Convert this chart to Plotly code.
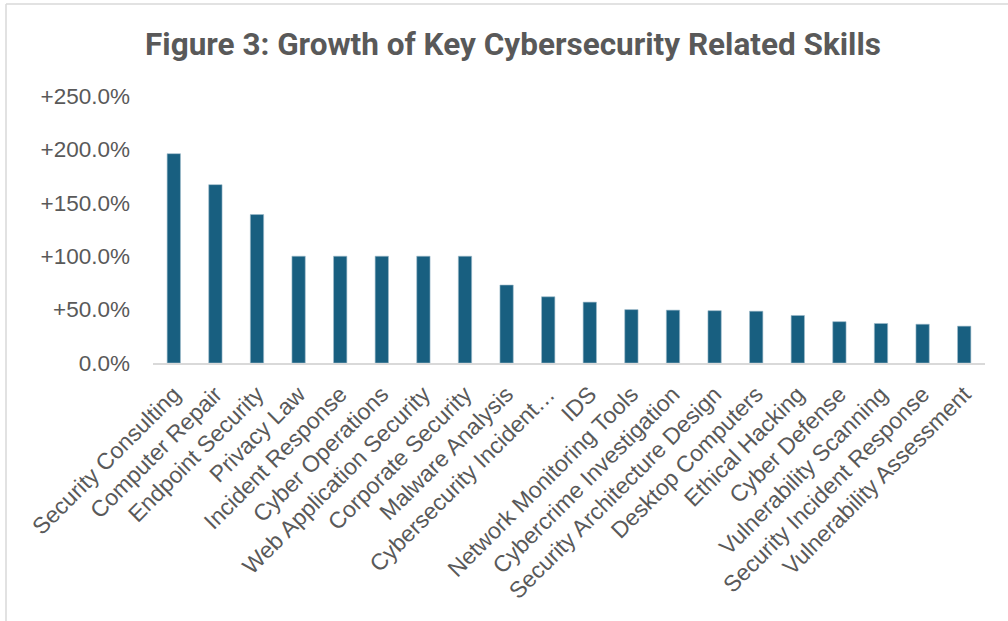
import plotly.graph_objects as go

categories = [
    "Security Consulting", "Computer Repair", "Endpoint Security", "Privacy Law",
    "Incident Response", "Cyber Operations", "Web Application Security",
    "Corporate Security", "Malware Analysis", "Cybersecurity Incident…", "IDS",
    "Network Monitoring Tools", "Cybercrime Investigation",
    "Security Architecture Design", "Desktop Computers", "Ethical Hacking",
    "Cyber Defense", "Vulnerability Scanning", "Security Incident Response",
    "Vulnerability Assessment",
]
growth_pct = [196, 167, 139, 100, 100, 100, 100, 100, 73, 62, 57, 50, 49.5, 49,
              48.5, 44.5, 38.7, 37, 36.3, 34.5]
y_tick_vals = [0, 50, 100, 150, 200, 250]
y_tick_text = ["0.0%", "+50.0%", "+100.0%", "+150.0%", "+200.0%", "+250.0%"]

W, H = 1008, 621
L, R, T, B = 153, 23, 96, 258
pw, ph = W - L - R, H - T - B

fig = go.Figure(go.Bar(
    x=categories, y=growth_pct,
    marker=dict(color="#185F80", line=dict(color="#9fbccb", width=0.6)),
))

def px_x(p):
    return (p - L) / pw

def px_y(p):
    return (H - B - p) / ph

fig.update_layout(
    width=W, height=H,
    margin=dict(l=L, r=R, t=T, b=B),
    paper_bgcolor="white", plot_bgcolor="white",
    bargap=0.68,
    showlegend=False,
    title=dict(
        text="<b>Figure 3: Growth of Key Cybersecurity Related Skills</b>",
        x=513 / W, xref="container", xanchor="center",
        y=1 - 44 / H, yref="container", yanchor="middle",
        font=dict(family="Roboto, Arial, sans-serif", size=31.5, color="#595959"),
    ),
    font=dict(family="Liberation Sans, Arial, sans-serif", color="#595959"),
    xaxis=dict(
        tickangle=-45, tickfont=dict(size=23, color="#595959"),
        showline=True, linecolor="#d9d9d9", linewidth=1.5,
        showgrid=False, ticks="", ticklabelstandoff=7,
    ),
    yaxis=dict(
        range=[0, 250], tickvals=y_tick_vals, ticktext=y_tick_text,
        tickfont=dict(size=22.5, color="#595959"),
        showgrid=False, showline=False, zeroline=False, ticks="",
        ticklabelstandoff=22,
    ),
    shapes=[
        dict(type="line", xref="paper", yref="paper",
             x0=px_x(6), x1=px_x(6), y0=px_y(4), y1=px_y(H),
             line=dict(color="#d9d9d9", width=1.5)),
        dict(type="line", xref="paper", yref="paper",
             x0=px_x(6), x1=px_x(W), y0=px_y(4), y1=px_y(4),
             line=dict(color="#d9d9d9", width=1.5)),
    ],
)

fig.write_html("out.html")
